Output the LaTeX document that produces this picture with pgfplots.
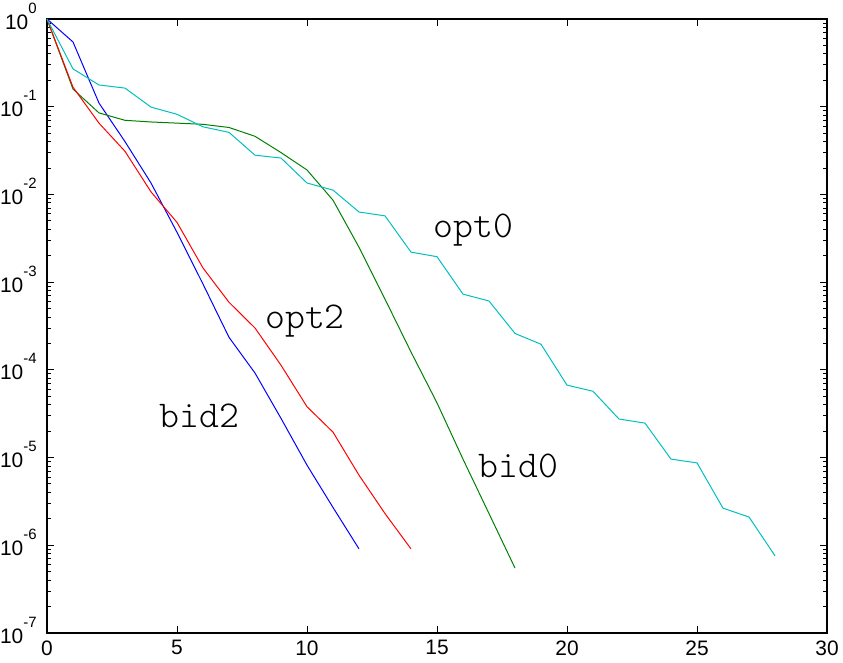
\documentclass[border=0pt]{standalone}
\usepackage{fontspec}
\setmainfont{Liberation Sans}
\newfontfamily\lmlight{Latin Modern Mono Light}
\usepackage{pgfplots}
\pgfplotsset{compat=1.18}
\definecolor{mblue}{rgb}{0,0,1}
\definecolor{mgreen}{rgb}{0,0.5,0}
\definecolor{mred}{rgb}{1,0,0}
\definecolor{mcyan}{rgb}{0,0.75,0.75}
\newcommand{\tl}[1]{10\raisebox{8bp}{\fontsize{7.5}{8}\selectfont #1}}
\begin{document}
\begin{tikzpicture}
\begin{semilogyaxis}[
  scale only axis,
  width=390bp, height=307bp,
  xmin=0, xmax=30, ymin=1e-7, ymax=1,
  xtick={0,5,...,30},
  ytick={1e-7,1e-6,1e-5,1e-4,1e-3,1e-2,1e-1,1},
  yticklabels={\tl{-7},\tl{-6},\tl{-5},\tl{-4},\tl{-3},\tl{-2},\tl{-1},\tl{0}},
  xticklabel style={font=\fontsize{10.5}{12}\selectfont, inner sep=0pt, anchor=north, yshift=-3.5bp},
  yticklabel style={font=\fontsize{10.5}{12}\selectfont, inner sep=0pt, anchor=base east, xshift=-5bp, yshift=-5bp},
  /pgf/number format/assume math mode=true,
  tick align=inside,
  major tick length=3.5bp,
  minor tick length=2bp,
  tick style={black, line width=0.5pt},
  axis line style={line width=0.8pt},
  every axis plot/.append style={line width=0.5pt, mark=none},
  clip=false,
]
% bid2
\addplot[mblue] coordinates {
(0,1) (1,0.547) (2,0.110) (3,0.040) (4,0.0135) (5,0.0037) (6,0.00095)
(7,2.35e-4) (8,9.2e-5) (9,2.8e-5) (10,8.2e-6) (11,2.7e-6) (12,9.1e-7)};
% bid0
\addplot[mgreen] coordinates {
(0,1) (1,0.159) (2,0.085) (3,0.070) (4,0.067) (5,0.065) (6,0.063)
(7,0.058) (8,0.046) (9,0.030) (10,0.019) (11,8.6e-3) (12,2.5e-3)
(13,6.4e-4) (14,1.6e-4) (15,4.2e-5) (16,9.6e-6) (17,2.3e-6) (18,5.5e-7)};
% opt2
\addplot[mred] coordinates {
(0,1) (1,0.167) (2,0.065) (3,0.031) (4,0.0107) (5,0.0048) (6,1.45e-3)
(7,5.9e-4) (8,3.0e-4) (9,1.13e-4) (10,3.8e-5) (11,1.95e-5) (12,6.3e-6)
(13,2.3e-6) (14,9.1e-7)};
% opt0
\addplot[mcyan] coordinates {
(0,1) (1,0.27) (2,0.177) (3,0.163) (4,0.099) (5,0.082) (6,0.059)
(7,0.051) (8,0.028) (9,0.026) (10,0.0135) (11,0.0112) (12,6.3e-3)
(13,5.7e-3) (14,2.2e-3) (15,1.95e-3) (16,7.3e-4) (17,6.1e-4) (18,2.6e-4)
(19,1.96e-4) (20,6.7e-5) (21,5.7e-5) (22,2.75e-5) (23,2.47e-5) (24,9.6e-6)
(25,8.7e-6) (26,2.65e-6) (27,2.1e-6) (28,7.6e-7)};
\tikzset{lbl/.style={anchor=base west, inner sep=0, font=\lmlight\fontsize{19}{21}\selectfont}}
\node[lbl] at (axis cs:14.85,3.2e-3) {opt0};
\node[lbl] at (axis cs:8.38,3.0e-4) {opt2};
\node[lbl] at (axis cs:4.31,2.2e-5) {bid2};
\node[lbl] at (axis cs:16.58,5.9e-6) {bid0};
\end{semilogyaxis}
\path (current axis.south west) ++(-23.5bp,-15bp);
\path (current axis.north east) ++(8bp,9.5bp);
\end{tikzpicture}
\end{document}
